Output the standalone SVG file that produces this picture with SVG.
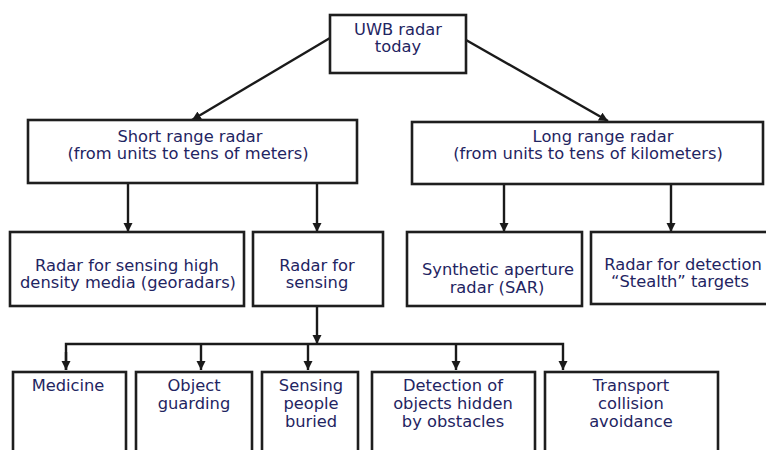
<svg xmlns="http://www.w3.org/2000/svg" width="766" height="450" viewBox="0 0 766 450">
<style>
.box{fill:#fff;stroke:#1e1e1e;stroke-width:2.6}
.t{font-family:"DejaVu Sans","Verdana",sans-serif;font-size:16.3px;fill:#1f2562;text-anchor:middle}
.c{fill:none;stroke:#1a1a1a;stroke-width:2.4}
</style>
<defs>
<marker id="ah" markerUnits="userSpaceOnUse" markerWidth="10" markerHeight="10" refX="9" refY="4.5" orient="auto">
<path d="M0,0 L9,4.5 L0,9 z" fill="#1a1a1a"/>
</marker>
</defs>
<rect width="766" height="450" fill="#fff"/>
<g id="connectors">
<line class="c" x1="330" y1="38" x2="192" y2="120" marker-end="url(#ah)"/>
<line class="c" x1="466" y1="40" x2="608" y2="121" marker-end="url(#ah)"/>
<line class="c" x1="128" y1="183" x2="128" y2="232" marker-end="url(#ah)"/>
<line class="c" x1="317" y1="183" x2="317" y2="232" marker-end="url(#ah)"/>
<line class="c" x1="504" y1="184" x2="504" y2="232" marker-end="url(#ah)"/>
<line class="c" x1="671" y1="184" x2="671" y2="232" marker-end="url(#ah)"/>
<line class="c" x1="317" y1="306" x2="317" y2="344" marker-end="url(#ah)"/>
<polyline class="c" points="66,370 66,344 563,344 563,370" marker-end="url(#ah)"/>
<line class="c" x1="66" y1="352" x2="66" y2="370" marker-end="url(#ah)"/>
<line class="c" x1="201" y1="344" x2="201" y2="370" marker-end="url(#ah)"/>
<line class="c" x1="308" y1="344" x2="308" y2="370" marker-end="url(#ah)"/>
<line class="c" x1="456" y1="344" x2="456" y2="370" marker-end="url(#ah)"/>
</g>
<g id="uwb">
<rect class="box" x="330" y="15" width="136" height="58"/>
<text class="t" x="398" y="35">UWB radar</text>
<text class="t" x="398" y="52">today</text>
</g>
<g id="short">
<rect class="box" x="28" y="120" width="329" height="63"/>
<text class="t" x="190" y="142">Short range radar</text>
<text class="t" x="188" y="159">(from units to tens of meters)</text>
</g>
<g id="long">
<rect class="box" x="412" y="122" width="351" height="62"/>
<text class="t" x="603" y="142">Long range radar</text>
<text class="t" x="588" y="159">(from units to tens of kilometers)</text>
</g>
<g id="georadar">
<rect class="box" x="10" y="232" width="234" height="74"/>
<text class="t" x="127" y="271">Radar for sensing high</text>
<text class="t" x="128" y="288">density media (georadars)</text>
</g>
<g id="sensing">
<rect class="box" x="253" y="232" width="130" height="74"/>
<text class="t" x="317" y="271">Radar for</text>
<text class="t" x="317" y="288">sensing</text>
</g>
<g id="sar">
<rect class="box" x="407" y="232" width="175" height="74"/>
<text class="t" x="498" y="275">Synthetic aperture</text>
<text class="t" x="497" y="293">radar (SAR)</text>
</g>
<g id="stealth">
<rect class="box" x="591" y="232" width="185" height="72"/>
<text class="t" x="683" y="270">Radar for detection</text>
<text class="t" x="680" y="287">“Stealth” targets</text>
</g>
<g id="medicine">
<rect class="box" x="13" y="372" width="113" height="90"/>
<text class="t" x="68" y="391">Medicine</text>
</g>
<g id="guarding">
<rect class="box" x="136" y="372" width="116" height="90"/>
<text class="t" x="194" y="391">Object</text>
<text class="t" x="194" y="409">guarding</text>
</g>
<g id="buried">
<rect class="box" x="262" y="372" width="96" height="90"/>
<text class="t" x="311" y="391">Sensing</text>
<text class="t" x="311" y="409">people</text>
<text class="t" x="311" y="427">buried</text>
</g>
<g id="hidden">
<rect class="box" x="372" y="372" width="163" height="90"/>
<text class="t" x="453" y="391">Detection of</text>
<text class="t" x="453" y="409">objects hidden</text>
<text class="t" x="453" y="427">by obstacles</text>
</g>
<g id="transport">
<rect class="box" x="545" y="372" width="173" height="90"/>
<text class="t" x="631" y="391">Transport</text>
<text class="t" x="631" y="409">collision</text>
<text class="t" x="631" y="427">avoidance</text>
</g>
</svg>
